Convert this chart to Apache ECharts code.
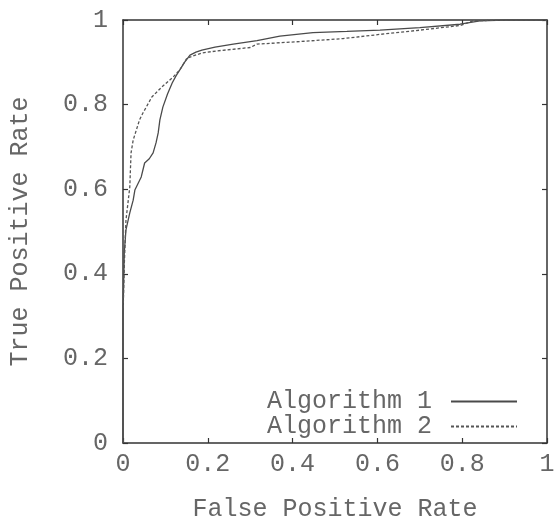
<!DOCTYPE html>
<html>
<head>
<meta charset="utf-8">
<script src="https://cdn.jsdelivr.net/npm/echarts@6/dist/echarts.min.js"></script>
<style>
html,body{margin:0;padding:0;background:#fff;}
#chart{width:558px;height:517px;}
</style>
</head>
<body>
<div id="chart"></div>
<script>
var seriesNames = ['Algorithm 1', 'Algorithm 2'];
var xAxisTitle = 'False Positive Rate';
var yAxisTitle = 'True Positive Rate';
var tickValues = [0, 0.2, 0.4, 0.6, 0.8, 1];

var algo1X = [0, 0, 0.003, 0.007, 0.016, 0.024, 0.028, 0.043, 0.051, 0.062, 0.071, 0.078, 0.083, 0.087, 0.094, 0.105, 0.116, 0.125, 0.134, 0.145, 0.158, 0.172, 0.186, 0.217, 0.26, 0.316, 0.37, 0.448, 0.528, 0.606, 0.7, 0.795, 0.842, 0.9, 1];
var algo1Y = [0, 0.30, 0.45, 0.504, 0.544, 0.574, 0.598, 0.629, 0.662, 0.672, 0.686, 0.71, 0.733, 0.764, 0.794, 0.825, 0.851, 0.868, 0.882, 0.90, 0.917, 0.924, 0.929, 0.936, 0.943, 0.951, 0.962, 0.970, 0.973, 0.976, 0.982, 0.99, 0.998, 1, 1];

var algo2X = [0, 0, 0.003, 0.007, 0.012, 0.016, 0.019, 0.024, 0.039, 0.047, 0.068, 0.092, 0.118, 0.134, 0.151, 0.186, 0.222, 0.30, 0.316, 0.417, 0.519, 0.606, 0.7, 0.795, 0.826, 0.9, 1];
var algo2Y = [0, 0.30, 0.42, 0.527, 0.57, 0.605, 0.686, 0.716, 0.764, 0.78, 0.818, 0.842, 0.865, 0.882, 0.910, 0.922, 0.927, 0.935, 0.943, 0.949, 0.956, 0.966, 0.976, 0.987, 0.998, 1, 1];

function pairs(xs, ys) { return xs.map(function (x, i) { return [x, ys[i]]; }); }

var FONT = 'Liberation Mono';
var TXT = '#666';
var AX = '#333';
var FS = 25;

var chart = echarts.init(document.getElementById('chart'), null, {renderer: 'canvas'});
var baseAxis = {
  type: 'value', min: 0, max: 1, interval: 0.2,
  splitLine: {show: false},
  axisLine: {show: true, onZero: false, lineStyle: {color: AX, width: 1.5}},
  axisTick: {show: true, inside: true, length: 5, lineStyle: {color: AX, width: 1.2}}
};
function fmt(v) { return String(+v.toFixed(1)); }

chart.setOption({
  animation: false,
  backgroundColor: '#fff',
  grid: {left: 123, right: 11, top: 20, bottom: 74, containLabel: false, outerBoundsMode: 'none'},
  legend: {
    orient: 'vertical', right: 35, top: 384, align: 'right',
    itemWidth: 66, itemHeight: 12, itemGap: 0,
    itemStyle: {opacity: 0},
    textStyle: {fontFamily: FONT, fontSize: FS, color: TXT, padding: [0, 14, 0, 0]},
    data: seriesNames
  },
  xAxis: [
    Object.assign({}, baseAxis, {
      position: 'bottom',
      name: xAxisTitle, nameLocation: 'middle', nameGap: 54,
      nameTextStyle: {fontFamily: FONT, fontSize: FS, color: TXT},
      axisLabel: {fontFamily: FONT, fontSize: FS, color: TXT, margin: 9, formatter: fmt}
    }),
    Object.assign({}, baseAxis, {position: 'top', axisLabel: {show: false}})
  ],
  yAxis: [
    Object.assign({}, baseAxis, {
      position: 'left',
      name: yAxisTitle, nameLocation: 'middle', nameGap: 90,
      nameTextStyle: {fontFamily: FONT, fontSize: FS, color: TXT},
      axisLabel: {fontFamily: FONT, fontSize: FS, color: TXT, margin: 15, formatter: fmt}
    }),
    Object.assign({}, baseAxis, {position: 'right', axisLabel: {show: false}})
  ],
  series: [
    {
      name: seriesNames[0], type: 'line', symbol: 'none', symbolSize: 0, showSymbol: false,
      data: pairs(algo1X, algo1Y),
      lineStyle: {color: '#4a4a4a', width: 1.3, type: 'solid'},
      itemStyle: {color: '#4a4a4a'}
    },
    {
      name: seriesNames[1], type: 'line', symbol: 'none', symbolSize: 0, showSymbol: false,
      data: pairs(algo2X, algo2Y),
      lineStyle: {color: '#555', width: 1.3, type: [3, 2]},
      itemStyle: {color: '#555'}
    }
  ]
});
</script>
</body>
</html>
